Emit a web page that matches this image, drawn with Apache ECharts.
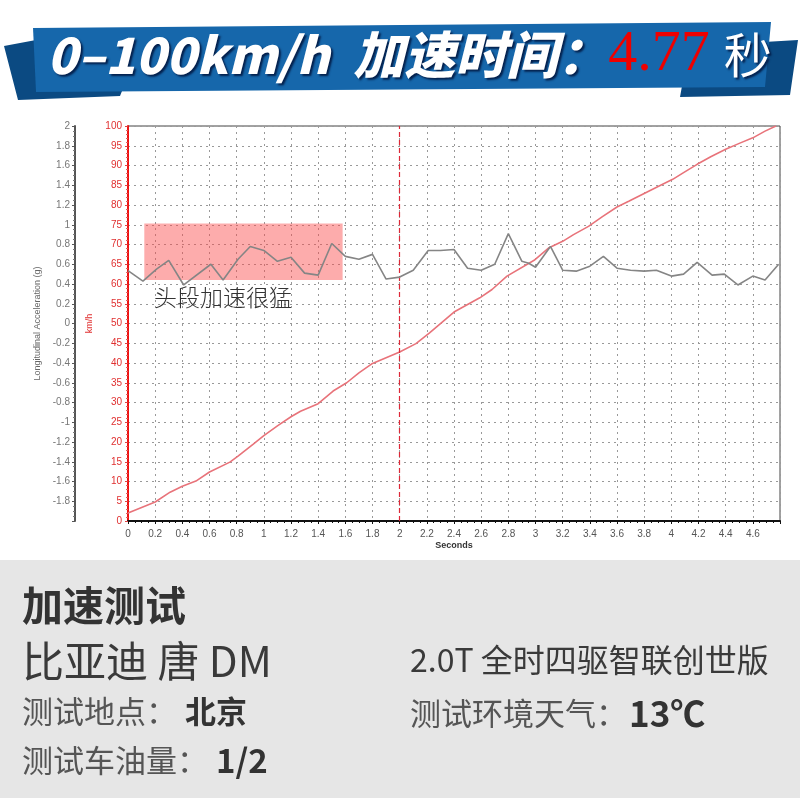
<!DOCTYPE html>
<html>
<head>
<meta charset="utf-8">
<script src="https://cdn.jsdelivr.net/npm/echarts@6/dist/echarts.min.js"></script>
<style>
html,body{margin:0;padding:0;background:#fff;}
#chart{width:800px;height:798px;}
</style>
</head>
<body>
<div id="chart"></div>
<script>
// ---- data ----
var speedTime = [0,0.2,0.31,0.4,0.5,0.6,0.75,0.81,0.92,1.0,1.1,1.2,1.27,1.4,1.51,1.61,1.7,1.8,2.0,2.12,2.22,2.4,2.59,2.68,2.79,2.99,3.1,3.2,3.28,3.39,3.49,3.6,3.69,3.8,3.91,4.01,4.09,4.19,4.29,4.4,4.5,4.6,4.69,4.77];
var speedKmh  = [2,4.8,7.3,8.8,10.1,12.4,14.9,16.4,19.4,21.6,24.1,26.4,27.8,29.7,32.9,35,37.5,39.9,42.8,44.9,47.6,52.9,56.5,58.6,62,66,69.2,70.8,72.5,74.6,77,79.5,81,82.9,84.8,86.5,88.2,90.3,92.2,94.1,95.6,97,98.7,100];
var accelTime = [0,0.11,0.21,0.3,0.41,0.61,0.7,0.81,0.9,1.0,1.1,1.2,1.3,1.4,1.5,1.6,1.7,1.8,1.9,2.0,2.1,2.21,2.3,2.4,2.5,2.6,2.7,2.8,2.9,2.95,3.0,3.11,3.2,3.3,3.4,3.5,3.6,3.7,3.8,3.89,4.0,4.09,4.19,4.3,4.39,4.49,4.6,4.69,4.79];
var accelG    = [0.535,0.43,0.55,0.64,0.39,0.6,0.44,0.65,0.78,0.74,0.63,0.67,0.51,0.49,0.81,0.68,0.65,0.7,0.45,0.47,0.54,0.74,0.74,0.75,0.56,0.54,0.6,0.91,0.63,0.61,0.57,0.78,0.54,0.53,0.58,0.68,0.56,0.54,0.53,0.54,0.48,0.5,0.62,0.49,0.5,0.39,0.48,0.44,0.6];
var highlightX = [0.12, 1.58];
var highlightY = [61, 75.3];
var markTime = 2;
var accelRange = [-2, 2, 0.2];
var speedRange = [0, 100, 5];
var timeRange = [0, 4.8, 0.2];
var titleLatin = '0–100km/h';
var titleCjk = '加速时间：';
var titleValue = '4.77';
var titleUnit = '秒';
var note = '头段加速很猛';
var accelName = 'Longitudinal Acceleration (g)';
var speedName = 'km/h';
var timeName = 'Seconds';
var infoHead = '加速测试';
var carName = '比亚迪 唐 DM';
var carTrim = '2.0T 全时四驱智联创世版';
var placeLabel = '测试地点：', placeValue = '北京';
var weatherLabel = '测试环境天气：', weatherValue = '13℃';
var fuelLabel = '测试车油量：', fuelValue = '1/2';

function zip(a, b) { return a.map(function (v, i) { return [v, b[i]]; }); }
function fmt(v) { return String(Math.round(v * 100) / 100); }

var chart = echarts.init(document.getElementById('chart'), null, {renderer: 'canvas'});
var cjk = '"Noto Sans CJK SC", "Noto Sans", sans-serif';
var latin = 'Arial, "Liberation Sans", sans-serif';
var shadow = {textShadowColor: 'rgba(0,20,60,0.85)', textShadowOffsetX: 2, textShadowOffsetY: 2, textShadowBlur: 2};

var option = {
  backgroundColor: '#ffffff',
  animation: false,
  grid: {left: 128, right: 20, top: 126, bottom: 277, show: true, borderColor: '#444', borderWidth: 1, backgroundColor: '#fff'},
  xAxis: {
    type: 'value', min: timeRange[0], max: timeRange[1], interval: timeRange[2],
    name: timeName, nameLocation: 'middle', nameGap: 20,
    nameTextStyle: {color: '#333', fontSize: 9, fontFamily: latin, fontWeight: 'bold'},
    axisLine: {onZero: false, lineStyle: {color: '#111', width: 2}},
    axisTick: {show: true, length: 3, lineStyle: {color: '#111'}},
    minorTick: {show: true, splitNumber: 4, length: 2, lineStyle: {color: '#111'}},
    axisLabel: {color: '#555', fontSize: 10, fontFamily: latin, margin: 8,
      formatter: function (v) { return v >= 4.79 ? '' : fmt(v); }},
    splitLine: {show: true, lineStyle: {color: '#999', type: [2, 4], width: 1}}
  },
  yAxis: [
    {
      type: 'value', position: 'left', offset: 53,
      min: accelRange[0], max: accelRange[1], interval: accelRange[2],
      name: accelName, nameLocation: 'middle', nameGap: 29, nameRotate: 90,
      nameTextStyle: {color: '#666', fontSize: 9, fontFamily: latin},
      axisLine: {show: true, onZero: false, lineStyle: {color: '#555', width: 2}},
      axisTick: {show: true, length: 3, lineStyle: {color: '#555'}},
      minorTick: {show: true, splitNumber: 4, length: 2, lineStyle: {color: '#777'}},
      axisLabel: {color: '#777', fontSize: 10, fontFamily: latin, margin: 5,
        formatter: function (v) { return v <= -1.99 ? '' : fmt(v); }},
      splitLine: {show: false}
    },
    {
      type: 'value', position: 'left', offset: 0,
      min: speedRange[0], max: speedRange[1], interval: speedRange[2],
      name: speedName, nameLocation: 'middle', nameGap: 30, nameRotate: 90,
      nameTextStyle: {color: '#e03030', fontSize: 9, fontFamily: latin},
      axisLine: {show: true, onZero: false, lineStyle: {color: '#ee1111', width: 2}},
      axisTick: {show: true, length: 3, lineStyle: {color: '#e04040'}},
      minorTick: {show: true, splitNumber: 5, length: 2, lineStyle: {color: '#e06060'}},
      axisLabel: {color: '#e03030', fontSize: 10, fontFamily: latin, margin: 6},
      splitLine: {show: true, lineStyle: {color: '#999', type: [2, 4], width: 1}}
    }
  ],
  series: [
    {
      type: 'line', name: 'speed', yAxisIndex: 1, data: zip(speedTime, speedKmh),
      showSymbol: false, lineStyle: {color: '#e8737a', width: 1.6}, z: 4,
      markArea: {silent: true, itemStyle: {color: 'rgba(250,70,70,0.45)'},
        data: [[{xAxis: highlightX[0], yAxis: highlightY[0]}, {xAxis: highlightX[1], yAxis: highlightY[1]}]]},
      markLine: {silent: true, symbol: 'none', label: {show: false},
        lineStyle: {color: '#dd2838', type: [5, 3], width: 1.2, opacity: 1}, data: [{xAxis: markTime}]}
    },
    {
      type: 'line', name: 'accel', yAxisIndex: 0, data: zip(accelTime, accelG),
      showSymbol: false, lineStyle: {color: '#858585', width: 1.6}, z: 5
    }
  ],
  graphic: [
    {type: 'rect', shape: {x: 0, y: 560, width: 800, height: 238}, style: {fill: '#e6e6e6'}, z: -10},
    // banner
    {type: 'polygon', shape: {points: [[4,46],[36,40],[36,88],[124,86],[120,96],[18,100]]}, style: {fill: '#0b4a82'}, z: 10},
    {type: 'polygon', shape: {points: [[764,42],[798,40],[790,95],[680,97],[682,86],[764,84]]}, style: {fill: '#0b4a82'}, z: 10},
    {type: 'polygon', shape: {points: [[33,28],[771,22],[765,87],[36,92]]}, style: {fill: '#1667ab'}, z: 11},
    {type: 'text', left: 47, top: 26, z: 12, style: {
      text: '{a|' + titleLatin + '}{k|' + titleCjk + '}{b|' + titleValue + '}{c|' + titleUnit + '}',
      rich: {
        a: Object.assign({fill: '#fff', font: 'italic 900 50px ' + cjk, padding: [0, 24, 0, 0]}, shadow),
        k: Object.assign({fill: '#fff', font: 'italic 900 51px ' + cjk, padding: [0, 0, 0, 0]}, shadow),
        b: {fill: '#ee0000', font: 'normal 58px "Liberation Serif", "DejaVu Serif", serif', padding: [0, 14, 0, 0]},
        c: Object.assign({fill: '#fff', font: 'normal 48px ' + cjk}, shadow)
      }
    }},
    // annotation
    {type: 'text', left: 154, top: 286, z: 20, style: {text: note, fill: '#333', font: '300 23px ' + cjk}},
    // info panel
    {type: 'text', left: 22, top: 585, style: {text: infoHead, fill: '#333', font: 'bold 41px ' + cjk}},
    {type: 'text', left: 22, top: 640, style: {text: carName, fill: '#3a3a3a', font: 'normal 42px ' + cjk}},
    {type: 'text', left: 410, top: 644, style: {text: carTrim, fill: '#3a3a3a', font: 'normal 32px ' + cjk}},
    {type: 'text', left: 22, top: 696, style: {text: '{l|' + placeLabel + '}{v|' + placeValue + '}',
      rich: {l: {fill: '#555', font: 'normal 31px ' + cjk, padding: [0, 8, 0, 0]}, v: {fill: '#333', font: 'bold 31px ' + cjk}}}},
    {type: 'text', left: 410, top: 696, style: {text: '{l|' + weatherLabel + '}{v|' + weatherValue + '}',
      rich: {l: {fill: '#555', font: 'normal 31px ' + cjk, padding: [0, 2, 0, 0]}, v: {fill: '#333', font: 'bold 35px ' + cjk}}}},
    {type: 'text', left: 22, top: 744, style: {text: '{l|' + fuelLabel + '}{v|' + fuelValue + '}',
      rich: {l: {fill: '#555', font: 'normal 31px ' + cjk, padding: [0, 8, 0, 0]}, v: {fill: '#333', font: 'bold 33px ' + cjk}}}}
  ]
};
chart.setOption(option);
</script>
</body>
</html>
